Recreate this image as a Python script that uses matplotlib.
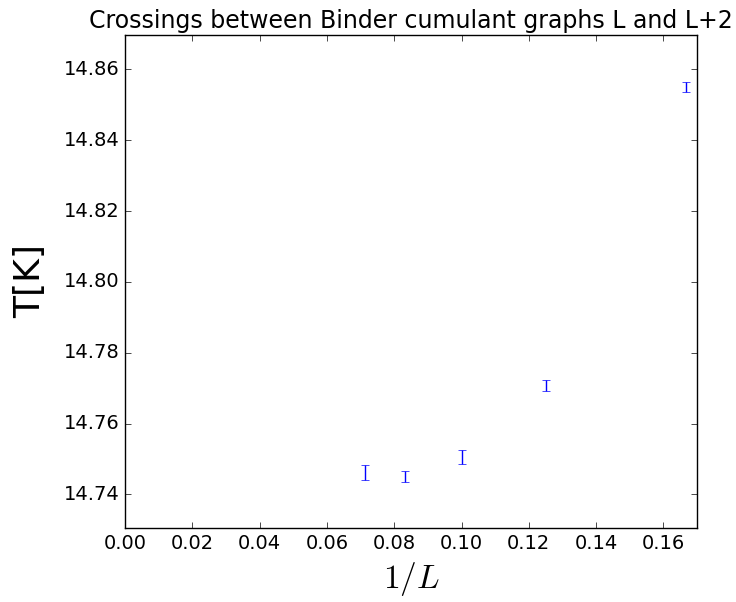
import matplotlib
matplotlib.use("Agg")
import matplotlib.pyplot as plt

L = [6, 8, 10, 12, 14]
inv_L = [1.0 / l for l in L]
T_cross = [14.855, 14.7708, 14.7505, 14.7451, 14.7462]
T_err = [0.0013, 0.0016, 0.0019, 0.0016, 0.0022]

plt.style.use("classic")
plt.rcParams["figure.facecolor"] = "white"
plt.rcParams["savefig.facecolor"] = "white"

fig = plt.figure(figsize=(7.36, 6.02), dpi=100)
ax = fig.add_axes([0.170, 0.1229, 0.777, 0.8190])

ax.errorbar(inv_L, T_cross, yerr=T_err, fmt="none", ecolor="b", capsize=3)

ax.set_xlim(0, 0.17)
ax.set_ylim(14.7305, 14.8697)
ax.set_xticks([0.00, 0.02, 0.04, 0.06, 0.08, 0.10, 0.12, 0.14, 0.16])
ax.set_yticks([14.74, 14.76, 14.78, 14.80, 14.82, 14.84, 14.86])
ax.ticklabel_format(useOffset=False)
ax.tick_params(labelsize=14)

ax.set_title("Crossings between Binder cumulant graphs L and L+2", fontsize=17)
ax.set_xlabel("$1/L$", fontsize=24)
ax.set_ylabel("T[K]", fontsize=26)
ax.yaxis.set_label_coords(-0.136, 0.5)

fig.savefig("out.png", dpi=100)
